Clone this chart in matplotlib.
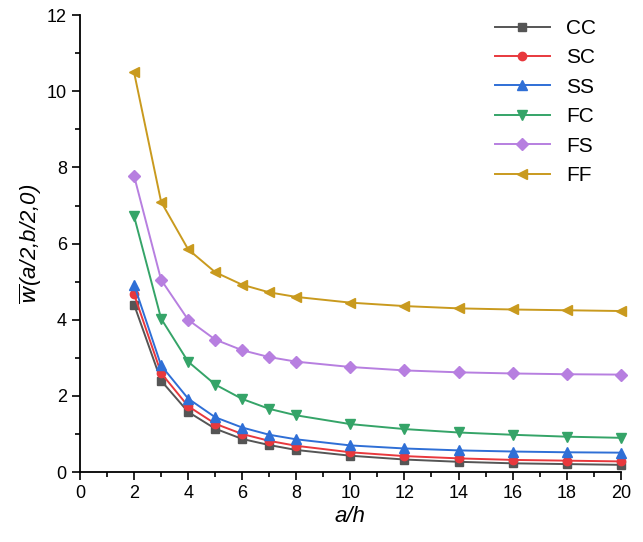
import matplotlib
matplotlib.use("Agg")
import matplotlib.pyplot as plt
from matplotlib.ticker import MultipleLocator

plt.rcParams['font.family'] = ['Liberation Sans', 'DejaVu Sans']
plt.rcParams['mathtext.fontset'] = 'dejavusans'

a_h = [2, 3, 4, 5, 6, 7, 8, 10, 12, 14, 16, 18, 20]
cc = [4.40, 2.40, 1.58, 1.14, 0.87, 0.71, 0.58, 0.43, 0.33, 0.27, 0.23, 0.21, 0.19]
sc = [4.67, 2.60, 1.73, 1.27, 1.00, 0.82, 0.69, 0.52, 0.42, 0.36, 0.32, 0.30, 0.28]
ss = [4.92, 2.80, 1.93, 1.44, 1.17, 0.98, 0.86, 0.70, 0.62, 0.57, 0.54, 0.52, 0.51]
fc = [6.72, 4.03, 2.90, 2.30, 1.92, 1.66, 1.49, 1.26, 1.13, 1.04, 0.98, 0.93, 0.90]
fs = [7.78, 5.05, 4.00, 3.48, 3.20, 3.02, 2.90, 2.76, 2.67, 2.62, 2.59, 2.57, 2.56]
ff = [10.50, 7.10, 5.85, 5.25, 4.92, 4.72, 4.60, 4.45, 4.36, 4.30, 4.27, 4.25, 4.23]

names = ["CC", "SC", "SS", "FC", "FS", "FF"]
series = [cc, sc, ss, fc, fs, ff]
colors = ["#555555", "#e8383d", "#2f6fd6", "#35a468", "#b77fe0", "#c99a1e"]
markers = ["s", "o", "^", "v", "D", "<"]
msizes = [6, 6, 7, 7, 6, 7]

fig = plt.figure(figsize=(6.43, 5.42), dpi=100)
ax = fig.add_axes([0.1244, 0.129, 0.841, 0.843])

for name, ys, c, m, ms in zip(names, series, colors, markers, msizes):
    ax.plot(a_h, ys, color=c, marker=m, markersize=ms, linewidth=1.4,
            label=name, clip_on=False)

ax.set_xlim(0, 20)
ax.set_ylim(0, 12)
ax.xaxis.set_major_locator(MultipleLocator(2))
ax.xaxis.set_minor_locator(MultipleLocator(1))
ax.yaxis.set_major_locator(MultipleLocator(2))
ax.yaxis.set_minor_locator(MultipleLocator(1))
ax.tick_params(which='major', length=6, width=1.2, labelsize=13, direction='out')
ax.tick_params(which='minor', length=3.5, width=1.2, direction='out')
ax.spines['top'].set_visible(False)
ax.spines['right'].set_visible(False)
ax.spines['left'].set_linewidth(1.3)
ax.spines['bottom'].set_linewidth(1.3)

ax.set_xlabel("a/h", fontsize=16, style='italic', labelpad=3)
ax.set_ylabel(r"$\overline{w}$(a/2,b/2,0)", fontsize=16, style='italic', labelpad=2)

ax.legend(loc='upper right', frameon=False, fontsize=15, handlelength=2.6,
          labelspacing=0.5, borderaxespad=0.0, bbox_to_anchor=(0.97, 1.01))

fig.savefig("out.png", dpi=100)
